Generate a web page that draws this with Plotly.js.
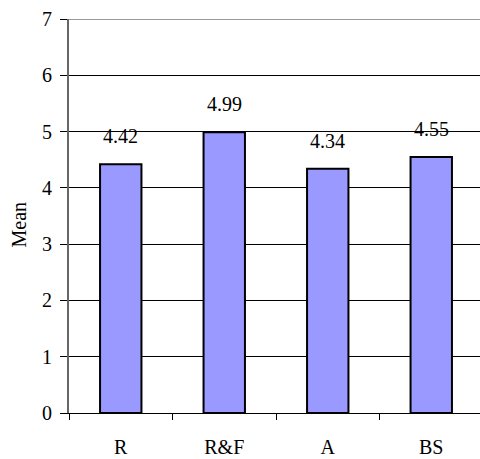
<!DOCTYPE html>
<html>
<head>
<script src="https://cdn.plot.ly/plotly-3.0.1.min.js"></script>
<style>body{margin:0;padding:0;background:#fff;}</style>
</head>
<body>
<div id="chart" style="width:480px;height:459px;"></div>
<script>
var categories = ["R", "R&F", "A", "BS"];
var means = [4.42, 4.99, 4.34, 4.55];
var valueLabels = ["4.42", "4.99", "4.34", "4.55"];
var yTicks = [0, 1, 2, 3, 4, 5, 6, 7];
var yTitle = "Mean";

var font = {family: "'Liberation Serif', 'Times New Roman', serif", size: 20, color: "#000"};

var trace = {
  type: "bar",
  x: categories,
  y: means,
  width: 0.4,
  marker: {color: "#9999FF", line: {color: "#000", width: 2}},
  hoverinfo: "none"
};

var annotations = categories.map(function (c, i) {
  return {
    x: c, y: means[i], xref: "x", yref: "y",
    text: valueLabels[i], showarrow: false,
    yanchor: "bottom", yshift: 15, font: font
  };
});
annotations.push({
  xref: "paper", yref: "paper", x: -0.122, y: 0.478,
  text: yTitle, textangle: -90, showarrow: false,
  xanchor: "center", yanchor: "middle", font: font
});

var layout = {
  width: 480, height: 459,
  margin: {l: 69, r: 0, t: 19, b: 46, pad: 0},
  paper_bgcolor: "#fff", plot_bgcolor: "#fff",
  showlegend: false,
  font: font,
  xaxis: {
    type: "category",
    range: [-0.5, 3.471],
    tickson: "boundaries",
    ticks: "outside", ticklen: 6, tickcolor: "#000", tickwidth: 1,
    ticklabelstandoff: 16,
    showline: true, linecolor: "#000", linewidth: 1,
    showgrid: false, zeroline: false,
    tickfont: font, fixedrange: true
  },
  yaxis: {
    range: [0, 7],
    tickvals: yTicks,
    ticks: "outside", ticklen: 7, tickcolor: "#000", tickwidth: 1,
    ticklabelstandoff: 4,
    showline: true, linecolor: "#666", linewidth: 2,
    showgrid: true, gridcolor: "#000", gridwidth: 1,
    zeroline: false,
    tickfont: font,
    fixedrange: true
  },
  shapes: [{
    type: "line", xref: "paper", yref: "y", x0: 0, x1: 1, y0: 7, y1: 7,
    line: {color: "#999", width: 2}
  }],
  annotations: annotations
};

Plotly.newPlot("chart", [trace], layout, {displayModeBar: false, staticPlot: true});
</script>
</body>
</html>
